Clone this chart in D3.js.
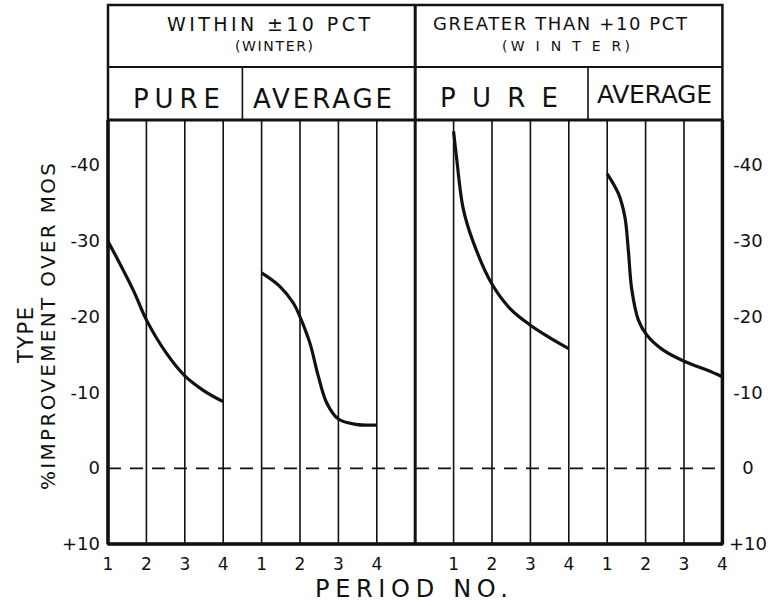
<!DOCTYPE html>
<html>
<head>
<meta charset="utf-8">
<script src="https://cdn.jsdelivr.net/npm/d3@7"></script>
<style>
body { margin: 0; background: #fff; }
text { font-family: "DejaVu Sans", sans-serif; fill: #111; }
</style>
</head>
<body>
<script>
// data
const periods = [1, 2, 3, 4];
const yTicks = [-40, -30, -20, -10, 0, 10];
const yTickLabels = ["-40", "-30", "-20", "-10", "0", "+10"];
const groups = ["WITHIN \u00b110 PCT", "GREATER THAN +10 PCT"];
const groupSub = ["(WINTER)", "(W I N T E R)"];
const types = ["PURE", "AVERAGE"];

// [period, % improvement]
const withinPure = [[1, -30], [1.66, -23.5], [2, -19.6], [2.52, -15.2], [3, -12.2], [3.48, -10.3], [4, -8.8]];
const withinAvg = [[1, -25.8], [1.48, -24.0], [1.83, -21.8], [2, -20.0], [2.26, -16.5], [2.48, -12.1], [2.7, -8.6], [3, -6.5], [3.45, -5.8], [4, -5.7]];
const greaterPure = [[1, -44.5], [1.08, -40.9], [1.25, -34.3], [1.51, -29.9], [1.99, -24.4], [2.47, -21.1], [3, -18.9], [3.52, -17.2], [4, -15.8]];
const greaterAvg = [[1, -38.9], [1.29, -36.3], [1.46, -33.2], [1.55, -28.8], [1.64, -23.6], [1.81, -19.6], [2.03, -17.6], [2.46, -15.6], [3.02, -14.1], [3.58, -13.0], [4, -12.1]];

const W = 770, H = 606;
const frameL = 108, frameR = 722.4, frameT = 5, rowY = 67, plotTop = 120, plotBot = 544;

const svg = d3.select("body").append("svg")
    .attr("width", W)
    .attr("height", H);

// 16 equal slots across the plot, one vertical rule each
var slot = d3.scaleLinear().domain([0, 16]).range([frameL, frameR]);
var y = d3.scaleLinear().domain([10, -46]).range([plotBot, plotTop]);

// panel start slot for each curve
const panels = [
    { g: 0, t: 0, start: 0, data: withinPure },
    { g: 0, t: 1, start: 4, data: withinAvg },
    { g: 1, t: 0, start: 9, data: greaterPure },
    { g: 1, t: 1, start: 13, data: greaterAvg }
];

// helper: text spread to a given width
function label(x, yy, str, size, len) {
    var t = svg.append("text")
        .attr("x", x).attr("y", yy)
        .attr("font-size", size)
        .text(str);
    if (len) t.attr("textLength", len).attr("lengthAdjust", "spacing");
    return t;
}

// thin vertical rules
var rules = d3.range(1, 16).filter(i => i != 8);
svg.selectAll(".rule").data(rules).enter().append("line")
    .attr("x1", d => slot(d)).attr("x2", d => slot(d))
    .attr("y1", plotTop).attr("y2", plotBot)
    .attr("stroke", "#111").attr("stroke-width", 1.6);

// zero line
svg.append("line")
    .attr("x1", frameL).attr("x2", frameR)
    .attr("y1", y(0)).attr("y2", y(0))
    .attr("stroke", "#111").attr("stroke-width", 1.8)
    .attr("stroke-dasharray", "13,9");

// frame
svg.append("rect")
    .attr("x", frameL).attr("y", frameT)
    .attr("width", frameR - frameL).attr("height", plotBot - frameT)
    .attr("fill", "none").attr("stroke", "#111").attr("stroke-width", 2.5);
svg.append("line").attr("x1", frameL).attr("x2", frameR).attr("y1", rowY).attr("y2", rowY)
    .attr("stroke", "#111").attr("stroke-width", 2);
svg.append("line").attr("x1", frameL).attr("x2", frameR).attr("y1", plotTop).attr("y2", plotTop)
    .attr("stroke", "#111").attr("stroke-width", 3);
svg.append("line").attr("x1", frameL).attr("x2", frameR).attr("y1", plotBot).attr("y2", plotBot)
    .attr("stroke", "#111").attr("stroke-width", 3.5);
svg.append("line").attr("x1", slot(8)).attr("x2", slot(8)).attr("y1", frameT).attr("y2", plotBot)
    .attr("stroke", "#111").attr("stroke-width", 3);
svg.append("line").attr("x1", frameL).attr("x2", frameL).attr("y1", plotTop).attr("y2", plotBot)
    .attr("stroke", "#111").attr("stroke-width", 3.5);
svg.append("line").attr("x1", frameR).attr("x2", frameR).attr("y1", plotTop).attr("y2", plotBot)
    .attr("stroke", "#111").attr("stroke-width", 3.5);

// sub dividers PURE | AVERAGE
[3.5, 12.5].forEach(function (s) {
    svg.append("line").attr("x1", slot(s)).attr("x2", slot(s)).attr("y1", rowY).attr("y2", plotTop)
        .attr("stroke", "#111").attr("stroke-width", 1.6);
});

// header texts
label(167, 31, groups[0], 19, 203);
label(235, 51, groupSub[0], 14, 78);
label(433, 30, groups[1], 18, 254);
label(502, 51, groupSub[1], 14, 128);

label(133, 108, types[0], 26, 87);
label(253, 108, types[1], 26, 139);
label(440, 107, "P U R E", 26, 118);
label(597, 103, types[1], 25, 115);

// y axis labels both sides
svg.selectAll(".yl").data(yTicks).enter().append("text")
    .attr("x", 100).attr("y", d => y(d) + 6)
    .attr("text-anchor", "end").attr("font-size", 18)
    .text((d, i) => yTickLabels[i]);
svg.selectAll(".yr").data(yTicks).enter().append("text")
    .attr("x", 748).attr("y", d => y(d) + 6)
    .attr("text-anchor", "middle").attr("font-size", 18)
    .text((d, i) => yTickLabels[i]);

// period ticks
panels.forEach(function (p) {
    svg.selectAll(null).data(periods).enter().append("text")
        .attr("x", d => slot(p.start + d - 1))
        .attr("y", 570)
        .attr("text-anchor", "middle").attr("font-size", 17)
        .text(d => d);
});

label(315, 597, "PERIOD NO.", 24, 193);

// y titles
svg.append("text")
    .attr("transform", "translate(33,363) rotate(-90)")
    .attr("font-size", 21)
    .attr("textLength", 56).attr("lengthAdjust", "spacing")
    .text("TYPE");
svg.append("text")
    .attr("transform", "translate(55,490) rotate(-90)")
    .attr("font-size", 20)
    .attr("textLength", 327).attr("lengthAdjust", "spacing")
    .text("%IMPROVEMENT OVER MOS");

// curves
var line = d3.line().curve(d3.curveCatmullRom.alpha(0.5));
panels.forEach(function (p) {
    svg.append("path")
        .attr("d", line(p.data.map(d => [slot(p.start + d[0] - 1), y(d[1])])))
        .attr("fill", "none").attr("stroke", "#111").attr("stroke-width", 3.2);
});
</script>
</body>
</html>
